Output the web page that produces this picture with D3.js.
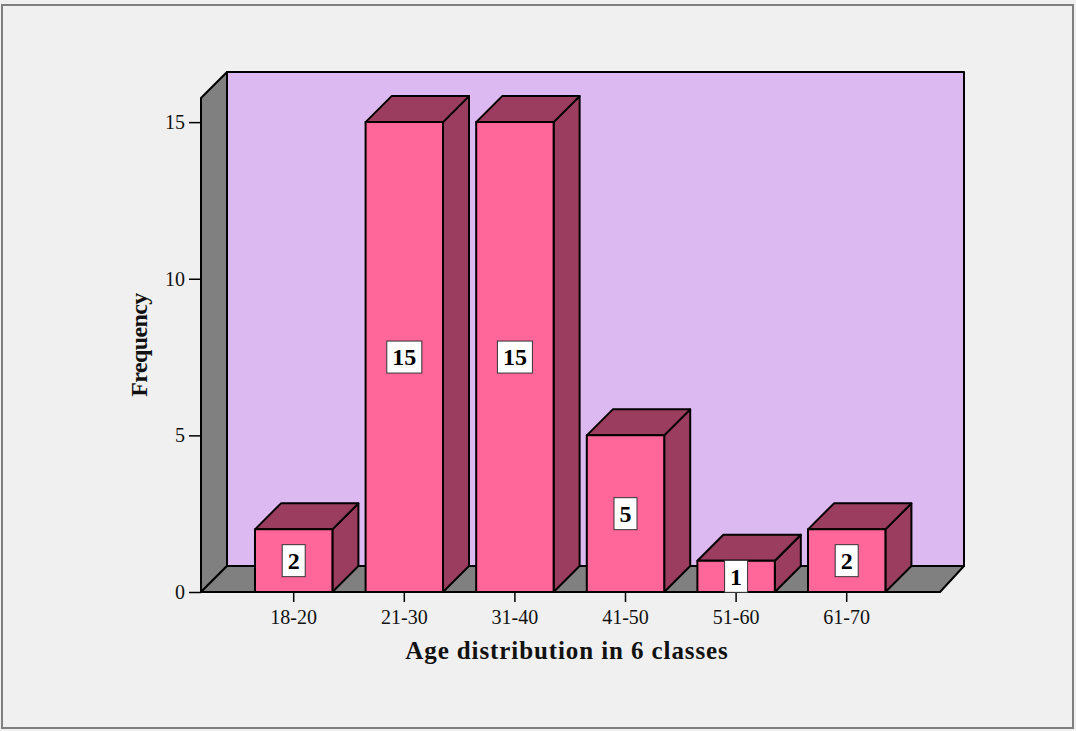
<!DOCTYPE html>
<html>
<head>
<meta charset="utf-8">
<script src="https://cdn.jsdelivr.net/npm/d3@7"></script>
<style>
  html, body { margin: 0; padding: 0; background: #f0f0f0; }
  svg { display: block; }
</style>
</head>
<body>
<svg id="chart" width="1076" height="731"></svg>
<script>
// Age classes and their frequencies
const categories = ["18-20", "21-30", "31-40", "41-50", "51-60", "61-70"];
const frequencies = [2, 15, 15, 5, 1, 2];
const yTicks = [0, 5, 10, 15];
const yTitle = "Frequency";
const xTitle = "Age distribution in 6 classes";

const W = 1076, H = 731;
const depth = 26;          // 3D offset (right and up)
const yMax = 15.77;        // top of the value axis
const plot = { left: 201, right: 940, bottom: 592, top: 98 };
const serif = "'Liberation Serif', 'Times New Roman', serif";

const colors = {
  bg: "#f0f0f0",
  wall: "#ddb9f2",
  side: "#808080",
  front: "#ff6699",
  dark: "#9b3d5e",
  frame: "#7f7f7f"
};

const svg = d3.select("#chart");

svg.append("rect").attr("x", 0).attr("y", 0).attr("width", W).attr("height", H).attr("fill", colors.bg);
svg.append("rect").attr("x", 2).attr("y", 5).attr("width", 1071).attr("height", 723)
  .attr("fill", "none").attr("stroke", colors.frame).attr("stroke-width", 2);

const y = d3.scaleLinear().domain([0, yMax]).range([plot.bottom, plot.top]);
const x = d3.scaleBand().domain(categories).range([238.4, 902])
  .paddingInner(0.3).paddingOuter(0.15);

const line = d3.line();
const g = svg.append("g").attr("stroke", "#000").attr("stroke-width", 2).attr("stroke-linejoin", "round");

// left wall
g.append("path").attr("fill", colors.side).attr("d", line([
  [plot.left, y(yMax)], [plot.left + depth, y(yMax) - depth],
  [plot.left + depth, plot.bottom - depth], [plot.left, plot.bottom]
]) + "Z");

// back wall
g.append("path").attr("fill", colors.wall).attr("d", line([
  [plot.left + depth, y(yMax) - depth], [plot.right + depth - 2, y(yMax) - depth],
  [plot.right + depth - 2, plot.bottom - depth], [plot.left + depth, plot.bottom - depth]
]) + "Z");

// floor
g.append("path").attr("fill", colors.side).attr("d", line([
  [plot.left, plot.bottom], [plot.left + depth, plot.bottom - depth],
  [plot.right + depth - 2, plot.bottom - depth], [plot.right, plot.bottom]
]) + "Z");

// axes
const yAxis = d3.axisLeft(y).tickValues(yTicks).tickSize(12).tickPadding(4).tickFormat(d3.format("d"));
const ya = svg.append("g").attr("transform", `translate(${plot.left},0)`).call(yAxis);
ya.select(".domain").remove();
ya.selectAll("line").attr("stroke", "#000").attr("stroke-width", 1.5);
ya.selectAll("text").attr("font-family", serif).attr("font-size", 20).attr("fill", "#111");

const xAxis = d3.axisBottom(x).tickSize(10).tickPadding(8);
const xa = svg.append("g").attr("transform", `translate(0,${plot.bottom})`).call(xAxis);
xa.select(".domain").remove();
xa.selectAll("line").attr("stroke", "#000").attr("stroke-width", 1.5);
xa.selectAll("text").attr("font-family", serif).attr("font-size", 20).attr("fill", "#111");

// bars
const bars = svg.append("g").attr("stroke", "#000").attr("stroke-width", 2).attr("stroke-linejoin", "round");
categories.forEach((c, i) => {
  const v = frequencies[i];
  const x0 = x(c), x1 = x(c) + x.bandwidth();
  const top = y(v), base = y(0);
  const bg = bars.append("g");
  bg.append("path").attr("fill", colors.dark).attr("d", line([
    [x1, top], [x1 + depth, top - depth], [x1 + depth, base - depth], [x1, base]
  ]) + "Z");
  bg.append("path").attr("fill", colors.dark).attr("d", line([
    [x0, top], [x0 + depth, top - depth], [x1 + depth, top - depth], [x1, top]
  ]) + "Z");
  bg.append("rect").attr("fill", colors.front)
    .attr("x", x0).attr("y", top).attr("width", x1 - x0).attr("height", base - top);
});

// floor front edge
svg.append("line").attr("x1", plot.left).attr("x2", plot.right)
  .attr("y1", plot.bottom).attr("y2", plot.bottom).attr("stroke", "#000").attr("stroke-width", 2);

// value labels
const labels = svg.append("g");
categories.forEach((c, i) => {
  const v = frequencies[i];
  const cx = x(c) + x.bandwidth() / 2;
  const cy = (y(v) + y(0)) / 2;
  const lg = labels.append("g");
  const t = lg.append("text").attr("x", cx).attr("y", cy).attr("dy", "0.35em")
    .attr("text-anchor", "middle").attr("font-family", serif)
    .attr("font-weight", "bold").attr("font-size", 24).attr("fill", "#000").text(v);
  const bb = t.node().getBBox();
  lg.insert("rect", "text").attr("x", cx - bb.width / 2 - 5.5).attr("y", cy - 16)
    .attr("width", bb.width + 11).attr("height", 32)
    .attr("fill", "#fff").attr("stroke", "#333").attr("stroke-width", 1);
});

// axis titles
svg.append("text").attr("x", 567).attr("y", 659).attr("text-anchor", "middle")
  .attr("font-family", serif).attr("font-weight", "bold").attr("font-size", 25)
  .attr("letter-spacing", 0.9).attr("fill", "#111").text(xTitle);

svg.append("text").attr("transform", "translate(147,345) rotate(-90)").attr("text-anchor", "middle")
  .attr("font-family", serif).attr("font-weight", "bold").attr("font-size", 24)
  .attr("letter-spacing", -0.6).attr("fill", "#111").text(yTitle);
</script>
</body>
</html>
